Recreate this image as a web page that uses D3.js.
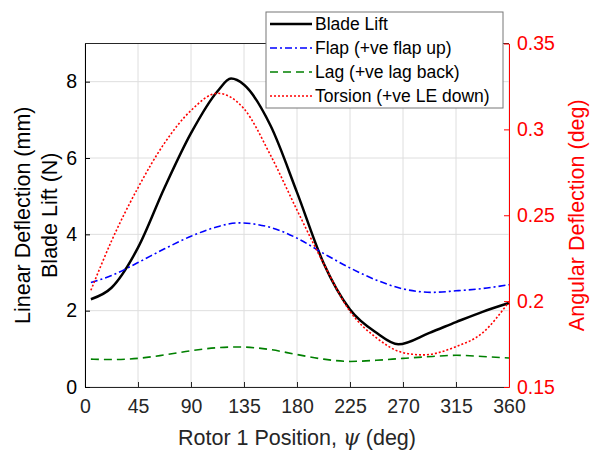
<!DOCTYPE html>
<html>
<head>
<meta charset="utf-8">
<script src="https://cdn.jsdelivr.net/npm/d3@7"></script>
<style>
  body { margin: 0; background: #fff; }
  text { font-family: "Liberation Sans", Arial, sans-serif; }
</style>
</head>
<body>
<svg id="chart"></svg>
<script>
// x positions (deg) and series
const psiLift  = [5, 22.5, 45, 67.5, 90, 112.5, 124, 135, 157.5, 180, 202.5, 225, 247.5, 266, 292.5, 315, 337.5, 360]
const bladeLift = [2.3, 2.6, 3.65, 5.22, 6.65, 7.75, 8.08, 7.92, 6.85, 5.1, 3.25, 2.03, 1.42, 1.12, 1.42, 1.7, 1.97, 2.2]

const psiDefl = [5, 22.5, 45, 67.5, 90, 112.5, 130, 157.5, 180, 202.5, 225, 247.5, 270, 295, 315, 337.5, 360]
const flap = [2.74, 2.92, 3.26, 3.62, 3.95, 4.2, 4.3, 4.18, 3.9, 3.5, 3.12, 2.8, 2.57, 2.48, 2.52, 2.58, 2.68]
const lag  = [0.73, 0.72, 0.75, 0.84, 0.95, 1.03, 1.05, 0.98, 0.85, 0.73, 0.67, 0.7, 0.75, 0.8, 0.83, 0.8, 0.76]

const psiTors = [5, 22.5, 45, 67.5, 90, 112.5, 135, 157.5, 180, 202.5, 225, 247.5, 270, 287, 315, 337.5, 360]
const torsion = [0.2063, 0.235, 0.266, 0.292, 0.311, 0.321, 0.312, 0.285, 0.253, 0.222, 0.194, 0.1786, 0.170, 0.1687, 0.1735, 0.1815, 0.1996]

const xTicks = [0, 45, 90, 135, 180, 225, 270, 315, 360]
const leftTicks = [0, 2, 4, 6, 8]
const rightTicks = [0.15, 0.2, 0.25, 0.3, 0.35]
const legendLabels = ["Blade Lift", "Flap (+ve flap up)", "Lag (+ve lag back)", "Torsion (+ve LE down)"]

const width = 592, height = 451
const margin = { top: 43.5, right: 83, bottom: 64, left: 85 }
const innerWidth = width - margin.left - margin.right
const innerHeight = height - margin.top - margin.bottom

const svg = d3.select('#chart').attr('width', width).attr('height', height)
const g = svg.append('g').attr('transform', `translate(${margin.left}, ${margin.top})`)

const xScale = d3.scaleLinear().domain([0, 360]).range([0, innerWidth])
const yLeft = d3.scaleLinear().domain([0, 9]).range([innerHeight, 0])
const yRight = d3.scaleLinear().domain([0.15, 0.35]).range([innerHeight, 0])

// grid
g.append('g').selectAll('line').data(xTicks).enter().append('line')
  .attr('x1', d => xScale(d)).attr('x2', d => xScale(d))
  .attr('y1', 0).attr('y2', innerHeight)
  .style('stroke', '#dedede').style('stroke-width', 1)
g.append('g').selectAll('line').data(leftTicks).enter().append('line')
  .attr('x1', 0).attr('x2', innerWidth)
  .attr('y1', d => yLeft(d)).attr('y2', d => yLeft(d))
  .style('stroke', '#dedede').style('stroke-width', 1)

// top border
g.append('line').attr('x1', 0).attr('x2', innerWidth).attr('y1', 0).attr('y2', 0)
  .style('stroke', '#262626').style('stroke-width', 1)

// axes
const xAxisG = g.append('g').attr('transform', `translate(0, ${innerHeight})`)
  .call(d3.axisBottom(xScale).tickValues(xTicks).tickSizeInner(-5).tickSizeOuter(0).tickPadding(12))
const yLeftG = g.append('g')
  .call(d3.axisLeft(yLeft).tickValues(leftTicks).tickSizeInner(-5).tickSizeOuter(0).tickPadding(8))
const yRightG = g.append('g').attr('transform', `translate(${innerWidth}, 0)`)
  .call(d3.axisRight(yRight).tickValues(rightTicks).tickFormat(d => String(+d.toFixed(2))).tickSizeInner(-5).tickSizeOuter(0).tickPadding(8))

xAxisG.selectAll('path, line').style('stroke', '#262626')
xAxisG.selectAll('text').style('font-size', '19.5px').style('fill', '#262626')
yLeftG.selectAll('path, line').style('stroke', '#000')
yLeftG.selectAll('text').style('font-size', '19.5px').style('fill', '#000')
yRightG.selectAll('path, line').style('stroke', '#ff0000')
yRightG.selectAll('text').style('font-size', '19.5px').style('fill', '#ff0000')

// lines
const clip = svg.append('defs').append('clipPath').attr('id', 'clip')
clip.append('rect').attr('x', -2).attr('y', -2).attr('width', innerWidth + 4).attr('height', innerHeight + 4)

const mkLine = (xs, ys, yScale) => d3.line()
  .x((d, i) => xScale(xs[i]))
  .y(d => yScale(d))
  .curve(d3.curveMonotoneX)(ys)

const series = [
  { path: mkLine(psiLift, bladeLift, yLeft), color: '#000000', width: 2.5, dash: null },
  { path: mkLine(psiDefl, flap, yLeft), color: '#0000ff', width: 1.6, dash: '7,3,2,3' },
  { path: mkLine(psiDefl, lag, yLeft), color: '#008000', width: 1.6, dash: '8,5' },
  { path: mkLine(psiTors, torsion, yRight), color: '#ff0000', width: 1.6, dash: '2,2' }
]

g.append('g').style('clip-path', 'url(#clip)')
  .selectAll('path').data(series).enter().append('path')
  .attr('d', d => d.path)
  .style('fill', 'none')
  .style('stroke', d => d.color)
  .style('stroke-width', d => d.width)
  .style('stroke-dasharray', d => d.dash)

// axis labels
svg.append('text').attr('x', margin.left + innerWidth / 2).attr('y', 445)
  .attr('text-anchor', 'middle').style('font-size', '21.5px').style('fill', '#262626')
  .html('Rotor 1 Position, <tspan font-family="DejaVu Serif" font-style="italic">ψ</tspan> (deg)')

svg.append('text').attr('transform', `translate(30, ${margin.top + innerHeight / 2}) rotate(-90)`)
  .attr('text-anchor', 'middle').style('font-size', '21.5px').style('fill', '#000')
  .text('Linear Deflection (mm)')
svg.append('text').attr('transform', `translate(57, ${margin.top + innerHeight / 2}) rotate(-90)`)
  .attr('text-anchor', 'middle').style('font-size', '21.5px').style('fill', '#000')
  .text('Blade Lift (N)')
svg.append('text').attr('transform', `translate(584, ${margin.top + innerHeight / 2}) rotate(-90)`)
  .attr('text-anchor', 'middle').style('font-size', '21.5px').style('fill', '#ff0000')
  .text('Angular Deflection (deg)')

// legend
const legend = svg.append('g').attr('transform', 'translate(266, 12)')
legend.append('rect').attr('width', 237).attr('height', 96)
  .style('fill', '#fff').style('stroke', '#777').style('stroke-width', 1)
const legRows = legend.selectAll('g').data(series).enter().append('g')
  .attr('transform', (d, i) => `translate(0, ${12 + i * 24})`)
legRows.append('line').attr('x1', 4).attr('x2', 46).attr('y1', 0).attr('y2', 0)
  .style('stroke', d => d.color).style('stroke-width', d => d.width)
  .style('stroke-dasharray', d => d.dash)
legRows.append('text').attr('x', 49).attr('y', 0).attr('dy', '0.35em')
  .style('font-size', '17.5px').style('fill', '#000')
  .text((d, i) => legendLabels[i])
</script>
</body>
</html>
